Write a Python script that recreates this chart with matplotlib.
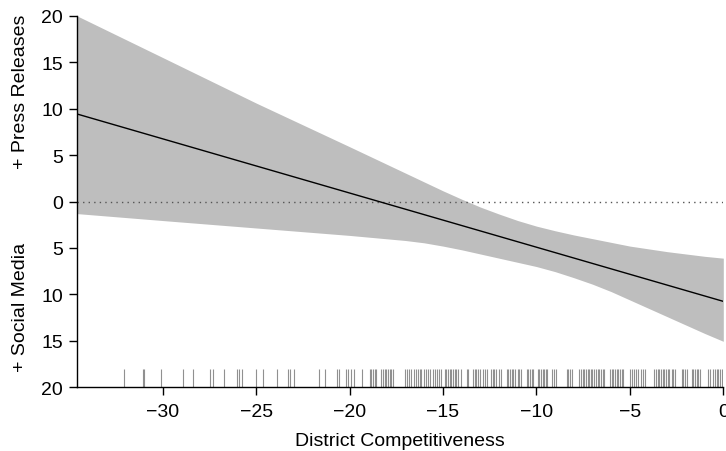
import matplotlib
matplotlib.use("Agg")
import matplotlib.pyplot as plt
import numpy as np

plt.rcParams['font.family'] = ['Liberation Sans', 'DejaVu Sans']

# Fitted line endpoints (x, y)
line_x = [-34.6, 0.0]
line_y = [9.43, -10.75]

# Confidence band (upper edge)
upper_x = [-34.6, -30.0, -25.0, -20.0, -17.0, -16.0, -15.0, -14.0, -13.0, -12.0, -11.0,
           -10.0, -9.0, -8.0, -7.0, -6.0, -5.0, -4.0, -3.0, -2.0, -1.0, 0.0]
upper_y = [20.0, 15.5, 10.6, 5.9, 3.05, 2.1, 1.15, 0.25, -0.6, -1.35, -2.05,
           -2.65, -3.15, -3.6, -4.0, -4.4, -4.8, -5.1, -5.4, -5.65, -5.9, -6.1]

# Confidence band (lower edge)
lower_x = upper_x
lower_y = [-1.3, -2.05, -2.85, -3.65, -4.2, -4.45, -4.8, -5.2, -5.65, -6.1, -6.55,
           -7.0, -7.55, -8.2, -8.9, -9.7, -10.6, -11.5, -12.4, -13.3, -14.2, -15.05]

# Rug (observed district competitiveness values)
rug_x = [-32.05, -31.07, -30.98, -30.08, -28.89, -28.35, -27.46, -27.32, -26.71, -26.01,
         -25.92, -25.74, -25.03, -24.64, -23.87, -23.30, -23.21, -22.98, -21.62, -21.33,
         -20.67, -20.57, -20.17, -20.09, -19.94, -19.76, -19.31, -18.92, -18.83, -18.75,
         -18.66, -18.56, -18.30, -18.21, -18.12, -18.03, -17.94, -17.85, -17.76, -17.68,
         -17.05, -16.93, -16.82, -16.69, -16.57, -16.42, -16.34, -16.25, -16.16, -16.03,
         -15.93, -15.80, -15.71, -15.53, -15.44, -15.32, -15.21, -15.08, -14.91, -14.82,
         -14.73, -14.64, -14.55, -14.46, -14.37, -14.28, -14.19, -14.05, -13.74, -13.66,
         -13.39, -13.30, -13.21, -13.12, -13.03, -12.85, -12.76, -12.67, -12.44, -12.35,
         -12.27, -12.17, -12.00, -11.91, -11.60, -11.52, -11.42, -11.33, -11.25, -11.16,
         -11.01, -10.93, -10.84, -10.53, -10.44, -10.35, -10.26, -10.18, -9.94, -9.86,
         -9.76, -9.67, -9.59, -9.50, -9.41, -9.14, -9.05, -8.96, -8.39, -8.30,
         -8.21, -8.12, -7.71, -7.62, -7.53, -7.45, -7.35, -7.26, -7.18, -7.09,
         -7.00, -6.91, -6.82, -6.73, -6.64, -6.55, -6.46, -6.37, -6.07, -5.98,
         -5.89, -5.80, -5.71, -5.62, -5.53, -5.44, -5.36, -5.00, -4.91, -4.78,
         -4.68, -4.55, -4.42, -4.28, -4.19, -3.70, -3.60, -3.51, -3.43, -3.34,
         -3.25, -3.16, -3.07, -2.98, -2.89, -2.76, -2.68, -2.59, -2.23, -2.14,
         -2.05, -1.96, -1.69, -1.61, -1.52, -1.42, -1.34, -1.25, -0.80, -0.71,
         -0.54, -0.44, -0.36, -0.27, -0.18, -0.09, 0.00]

xticks = [-30, -25, -20, -15, -10, -5, 0]
yticks = [-20, -15, -10, -5, 0, 5, 10, 15, 20]
ytick_labels = ["20", "15", "10", "5", "0", "5", "10", "15", "20"]

fig = plt.figure(figsize=(7.26, 4.52), dpi=100)
ax = fig.add_axes([76.7 / 726, 1 - 388.3 / 452, (723.3 - 76.7) / 726, (388.3 - 16.7) / 452])

ax.fill_between(upper_x, lower_y, upper_y, color='#bebebe', linewidth=0, zorder=1)
ax.plot(line_x, line_y, color='black', lw=1.0, zorder=3)
ax.axhline(0, color='#555555', lw=1.0, ls=(0, (1, 3)), zorder=2)
ax.vlines(rug_x, -20, -18.05, color='#909090', lw=0.8, zorder=2)

ax.set_xlim(-34.6, 0)
ax.set_ylim(-20, 20)
ax.set_xticks(xticks)
ax.set_xticklabels([("\u2212" + str(-t)) if t < 0 else str(t) for t in xticks])
ax.set_yticks(yticks)
ax.set_yticklabels(ytick_labels)

for s in ['top', 'right']:
    ax.spines[s].set_visible(False)
ax.spines['left'].set_linewidth(1.0)
ax.spines['bottom'].set_linewidth(1.0)
ax.tick_params(axis='both', direction='out', length=6, width=1.0, labelsize=14, colors='black')
ax.tick_params(axis='x', pad=5)
ax.tick_params(axis='y', pad=4)

ax.set_xlabel("District Competitiveness", fontsize=14, labelpad=9)

fig.text(21 / 726, 1 - 92 / 452, "+ Press Releases", rotation=90, ha='center', va='center', fontsize=14)
fig.text(21 / 726, 1 - 307 / 452, "+ Social Media", rotation=90, ha='center', va='center', fontsize=14)

fig.savefig("out.png", dpi=100)
